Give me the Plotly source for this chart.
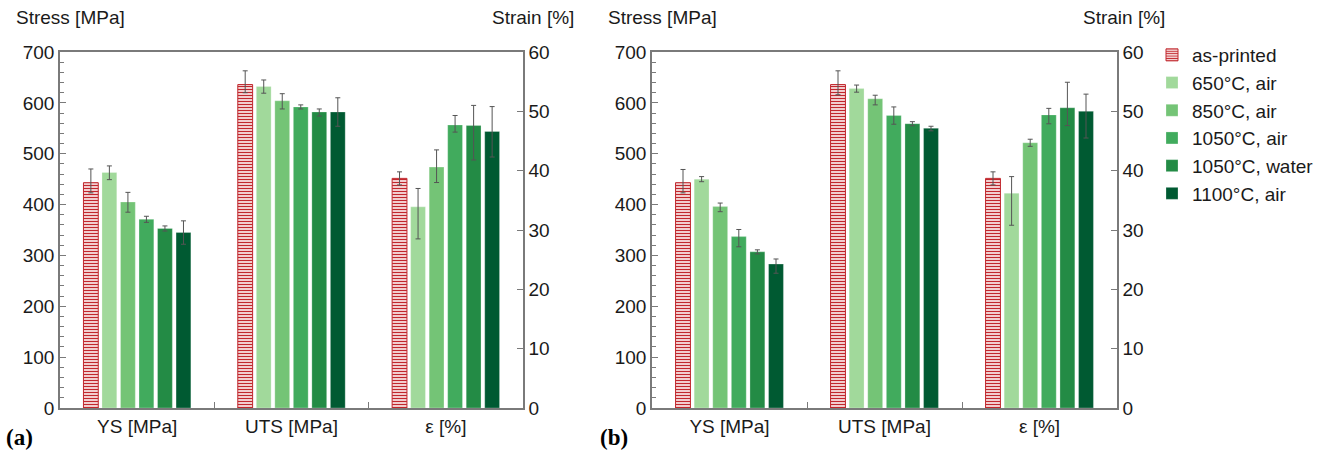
import plotly.graph_objects as go

categories = ["YS [MPa]", "UTS [MPa]", "ε [%]"]
series = ["as-printed", "650°C, air", "850°C, air", "1050°C, air", "1050°C, water", "1100°C, air"]
colors = ["#ffffff", "#a1d99b", "#74c476", "#41ab5d", "#238b45", "#005a32"]

# panel (a)
ys_a = [443, 463, 405, 371, 353, 345]
ys_a_up = [27, 13, 19, 6, 5, 23]
ys_a_dn = [20, 14, 20, 6, 5, 23]
uts_a = [636, 632, 604, 592, 582, 582]
uts_a_up = [27, 13, 14, 4, 6, 28]
uts_a_dn = [16, 13, 16, 4, 8, 28]
eps_a = [38.7, 33.9, 40.6, 47.7, 47.6, 46.6]
eps_a_up = [1.1, 3.1, 2.9, 1.6, 3.4, 4.2]
eps_a_dn = [1.1, 5.4, 2.6, 1.2, 5.8, 4.3]

# panel (b)
ys_b = [443, 450, 396, 337, 307, 283]
ys_b_up = [26, 5, 7, 14, 4, 10]
ys_b_dn = [20, 5, 10, 20, 4, 18]
uts_b = [636, 628, 608, 575, 559, 550]
uts_b_up = [27, 7, 7, 17, 4, 4]
uts_b_dn = [20, 7, 12, 17, 4, 5]
eps_b = [38.7, 36.2, 44.7, 49.4, 50.6, 50.0]
eps_b_up = [1.1, 2.8, 0.6, 1.1, 4.3, 2.9]
eps_b_dn = [1.1, 5.4, 0.6, 1.5, 3.0, 4.5]

FONT = "Arial, Liberation Sans, sans-serif"
TXT = "#1a1a1a"
AX = "#7a7a7a"
RED = "#c1272d"
FS = 19

fig = go.Figure()

def marker_for(i):
    if i == 0:
        return dict(color="#fdf0f0", line=dict(color=RED, width=1),
                    pattern=dict(shape="-", fgcolor=RED, bgcolor="#fdf0f0",
                                 size=3, solidity=0.45, fillmode="replace"))
    return dict(color=colors[i], line=dict(color="rgba(255,255,255,0.5)", width=0.5))

def err(up, dn):
    return dict(type="data", symmetric=False, array=up, arrayminus=dn,
                color="#555555", thickness=1, width=2.5)

panels = [
    ("x", "y", "y2", ys_a, ys_a_up, ys_a_dn, uts_a, uts_a_up, uts_a_dn, eps_a, eps_a_up, eps_a_dn, False),
    ("x2", "y3", "y4", ys_b, ys_b_up, ys_b_dn, uts_b, uts_b_up, uts_b_dn, eps_b, eps_b_up, eps_b_dn, True),
]

for (xa, ya, yb, ys, ysu, ysd, uts, utsu, utsd, eps, epsu, epsd, show) in panels:
    for i, name in enumerate(series):
        fig.add_trace(go.Bar(
            x=categories[:2], y=[ys[i], uts[i]], name=name, xaxis=xa, yaxis=ya,
            marker=marker_for(i),
            error_y=err([ysu[i], utsu[i]], [ysd[i], utsd[i]]),
            showlegend=show, legendgroup=name, offsetgroup=str(i)))
    for i, name in enumerate(series):
        fig.add_trace(go.Bar(
            x=[categories[2]], y=[eps[i]], name=name, xaxis=xa, yaxis=yb,
            marker=marker_for(i),
            error_y=err([epsu[i]], [epsd[i]]),
            showlegend=False, legendgroup=name, offsetgroup=str(i)))

H = 455
W = 1321
ydom = [1 - 408 / H, 1 - 52 / H]

xcommon = dict(type="category", categoryorder="array", categoryarray=categories,
               range=[-0.5, 2.5], showline=True, linecolor=AX, linewidth=1.5, mirror=True,
               ticks="inside", tickson="boundaries", ticklen=6, tickcolor=AX, automargin=False,
               tickfont=dict(family=FONT, size=FS, color=TXT), showgrid=False, zeroline=False)
yleft = dict(range=[0, 700], dtick=100, showline=True, linecolor=AX, linewidth=1.5,
             ticks="inside", ticklen=6, tickcolor=AX, showgrid=False, zeroline=False, automargin=False,
             minor=dict(dtick=20, ticks="inside", ticklen=4, tickcolor=AX),
             tickfont=dict(family=FONT, size=FS, color=TXT), domain=ydom)
yright = dict(range=[0, 60], dtick=10, showline=True, linecolor=AX, linewidth=1.5,
              ticks="inside", ticklen=6, tickcolor=AX, showgrid=False, zeroline=False, automargin=False,
              side="right", tickfont=dict(family=FONT, size=FS, color=TXT))

fig.update_layout(
    template="none",
    width=W, height=H,
    margin=dict(l=0, r=0, t=0, b=0, autoexpand=False),
    paper_bgcolor="white", plot_bgcolor="white",
    barmode="group", bargap=0.28, bargroupgap=0.2,
    xaxis=dict(xcommon, domain=[60 / W, 523 / W], anchor="y"),
    xaxis2=dict(xcommon, domain=[652 / W, 1117 / W], anchor="y3"),
    yaxis=dict(yleft, anchor="x"),
    yaxis2=dict(yright, overlaying="y", anchor="x"),
    yaxis3=dict(yleft, anchor="x2"),
    yaxis4=dict(yright, overlaying="y3", anchor="x2"),
    legend=dict(x=1152 / W, y=1 - 36 / H, xanchor="left", yanchor="top",
                font=dict(family=FONT, size=FS, color=TXT), traceorder="grouped",
                tracegroupgap=0, itemwidth=30, bgcolor="rgba(0,0,0,0)"),
    showlegend=True,
)

ann = [
    ("Stress [MPa]", 14, 18, "left"),
    ("Strain [%]", 576, 18, "right"),
    ("Stress [MPa]", 606, 18, "left"),
    ("Strain [%]", 1167, 18, "right"),
]
for text, xp, yp, anchor in ann:
    fig.add_annotation(text=text, x=xp / W, y=1 - yp / H, xref="paper", yref="paper",
                       xanchor=anchor, yanchor="middle", showarrow=False,
                       font=dict(family=FONT, size=FS, color=TXT))
for text, xp in [("(a)", 4), ("(b)", 598)]:
    fig.add_annotation(text="<b>" + text + "</b>", x=xp / W, y=1 - 437 / H, xref="paper", yref="paper",
                       xanchor="left", yanchor="middle", showarrow=False,
                       font=dict(family="Liberation Serif, Times New Roman, serif", size=23, color="#000"))

fig.write_html("out.html")
